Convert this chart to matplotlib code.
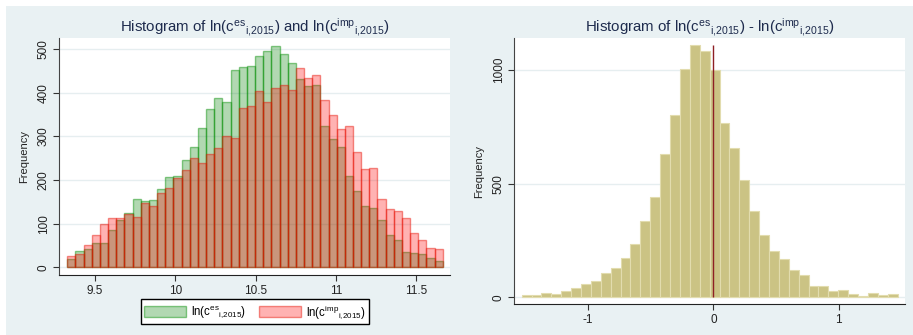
import matplotlib

matplotlib.use("Agg")
import matplotlib.pyplot as plt
import numpy as np
from matplotlib.patches import Rectangle

plt.rcParams["font.family"] = ["Liberation Sans", "DejaVu Sans"]
plt.rcParams["mathtext.fontset"] = "custom"
plt.rcParams["mathtext.rm"] = "Liberation Sans"
plt.rcParams["mathtext.it"] = "Liberation Sans:italic"

# left panel: ln(c_es) and ln(c_imp), 46 bins
left_start = 9.327
left_width = 0.05087
es_counts = [20, 37, 42, 56, 56, 86, 108, 124, 157, 151, 154, 179, 207, 209, 246, 275,
             320, 362, 387, 378, 453, 460, 462, 484, 496, 508, 488, 469, 431, 416, 418,
             323, 294, 276, 209, 175, 141, 135, 108, 73, 62, 35, 32, 30, 22, 15]
imp_counts = [25, 31, 52, 73, 99, 112, 112, 122, 115, 148, 141, 170, 181, 204, 223, 250,
              238, 260, 274, 300, 297, 365, 369, 404, 378, 411, 417, 407, 456, 433, 440,
              383, 349, 316, 323, 264, 226, 227, 156, 133, 128, 112, 78, 62, 44, 41]
left_xticks = [9.5, 10, 10.5, 11, 11.5]
left_xticklabels = ["9.5", "10", "10.5", "11", "11.5"]
left_yticks = [0, 100, 200, 300, 400, 500]

# right panel: difference, 38 bins
right_start = -1.527
right_width = 0.0788
diff_counts = [10, 9, 19, 15, 29, 41, 59, 73, 107, 129, 174, 235, 336, 441, 630, 802,
               1003, 1110, 1082, 998, 765, 655, 515, 378, 273, 204, 167, 120, 97, 48,
               48, 26, 32, 15, 7, 19, 12, 15]
right_xticks = [-1, 0, 1]
right_yticks = [0, 500, 1000]

es_label = r"$\mathregular{ln(c^{es}{}_{i{,}2015})}$"
imp_label = r"$\mathregular{ln(c^{imp}{}_{i{,}2015})}$"

BG = "#E9F1F3"
TITLE_COLOR = "#1E2B4D"

fig = plt.figure(figsize=(9.13, 3.35), dpi=100)
fig.patch.set_facecolor("white")
fig.add_artist(Rectangle((6 / 913, 0), 1, 1 - 6 / 335, transform=fig.transFigure,
                         facecolor=BG, edgecolor="none", zorder=-10))


def style_axes(ax, yticks):
    ax.set_facecolor("white")
    for side in ["top", "right"]:
        ax.spines[side].set_visible(False)
    ax.spines["left"].set_color("#444444")
    ax.spines["bottom"].set_color("#222222")
    ax.set_yticks(yticks)
    ax.set_yticklabels([str(v) for v in yticks], rotation=90, va="center")
    ax.tick_params(axis="both", labelsize=8.5, length=4, width=0.8, color="#333333",
                   labelcolor="#222222", pad=3)
    for v in yticks:
        ax.axhline(v, color="#E6EEF0", lw=1, zorder=0)
    ax.set_ylabel("Frequency", fontsize=8, color="#222222", labelpad=6)


# left panel
ax1 = fig.add_axes([59.3 / 913, 60 / 335, 390.7 / 913, 236.7 / 335])
left_edges = left_start + left_width * np.arange(len(es_counts))
b_es = ax1.bar(left_edges, es_counts, width=left_width, align="edge",
               facecolor=(0, 0.5, 0, 0.3), edgecolor=(0, 0.55, 0, 0.45), lw=1, zorder=2)
b_imp = ax1.bar(left_edges, imp_counts, width=left_width, align="edge",
                facecolor=(1, 0, 0, 0.3), edgecolor=(0.9, 0.05, 0, 0.45), lw=1, zorder=3)
ax1.set_xlim(9.277, 11.712)
ax1.set_ylim(-17.7, 525)
ax1.set_xticks(left_xticks)
ax1.set_xticklabels(left_xticklabels)
style_axes(ax1, left_yticks)
ax1.set_title("Histogram of " + es_label + " and " + imp_label, fontsize=10.8,
              color=TITLE_COLOR, pad=4)
fig.legend([b_es, b_imp], [es_label, imp_label], loc="center",
           bbox_to_anchor=(255 / 913, 1 - 311.7 / 335), bbox_transform=fig.transFigure,
           ncol=2, fontsize=8.3, frameon=True, fancybox=False, edgecolor="black",
           framealpha=1, handlelength=3.6, handleheight=1.1, columnspacing=1.1,
           borderpad=0.3, handletextpad=0.5, borderaxespad=0)

# right panel
ax2 = fig.add_axes([514.3 / 913, 31 / 335, 390.7 / 913, 265.7 / 335])
right_edges = right_start + right_width * np.arange(len(diff_counts))
ax2.bar(right_edges, diff_counts, width=right_width, align="edge",
        facecolor="#CBC384", edgecolor="#E2DCAE", lw=0.8, zorder=2)
ax2.vlines(0, 0, max(diff_counts), color="#8E1F24", lw=1, zorder=4)
ax2.set_xlim(-1.586, 1.527)
ax2.set_ylim(-29.5, 1139)
ax2.set_xticks(right_xticks)
ax2.set_xticklabels([str(v) for v in right_xticks])
style_axes(ax2, right_yticks)
ax2.set_title("Histogram of " + es_label + " - " + imp_label, fontsize=10.8,
              color=TITLE_COLOR, pad=4)

fig.savefig("out.png", dpi=100, facecolor=fig.get_facecolor())
